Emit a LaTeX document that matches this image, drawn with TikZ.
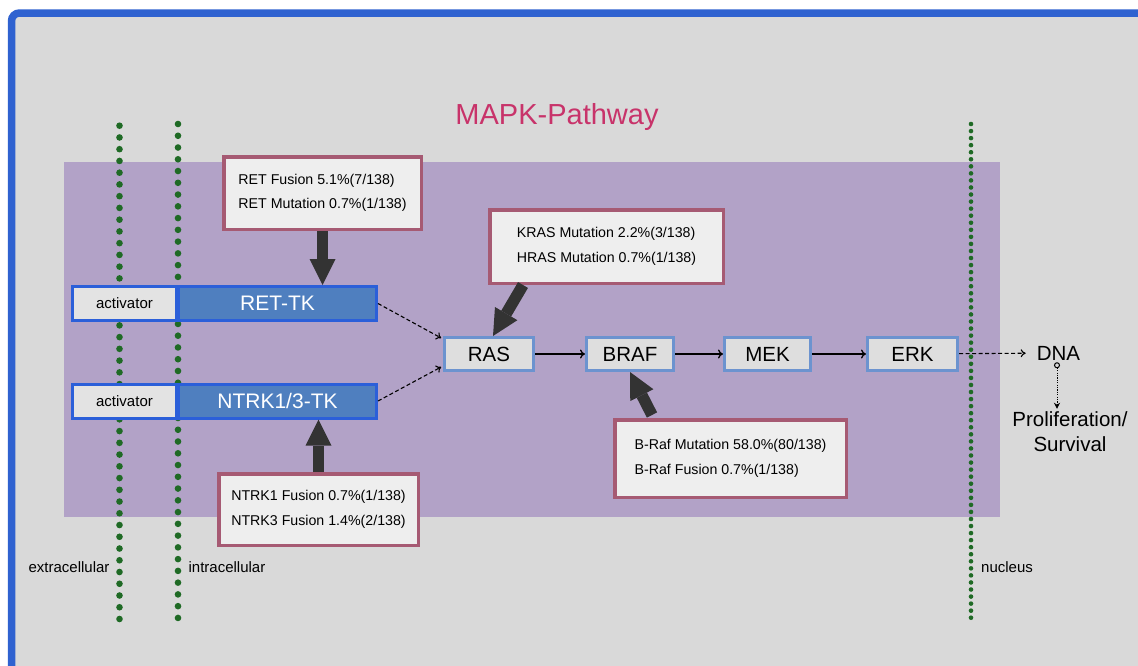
\documentclass[tikz,border=0pt]{standalone}
\usepackage{fontspec}
\setmainfont{Liberation Sans}
\usetikzlibrary{arrows.meta}
\definecolor{framebl}{HTML}{2F62D0}
\definecolor{panel}{HTML}{D9D9D9}
\definecolor{cyto}{HTML}{B2A2C7}
\definecolor{titlecol}{HTML}{C8336A}
\definecolor{memb}{HTML}{1F6A25}
\definecolor{tkedge}{HTML}{2B5FD9}
\definecolor{tkfill}{HTML}{4F7FBF}
\definecolor{actfill}{HTML}{E3E3E3}
\definecolor{protedge}{HTML}{6C93CF}
\definecolor{protfill}{HTML}{DEDEDE}
\definecolor{muteedge}{HTML}{A65A73}
\definecolor{mutefill}{HTML}{EEEEEE}
\definecolor{bigarr}{HTML}{333333}
\begin{document}
\begin{tikzpicture}[x=1pt,y=-1pt,
  protein/.style={draw=protedge, line width=3pt, fill=protfill, inner sep=0pt,
    minimum height=33pt, font=\fontsize{20.5}{24}\selectfont},
  actbox/.style={draw=tkedge, line width=3pt, fill=actfill, inner sep=0pt,
    minimum width=104pt, minimum height=34pt, font=\fontsize{15}{18}\selectfont},
  tkbox/.style={draw=tkedge, line width=3pt, fill=tkfill, text=white, inner sep=0pt,
    minimum width=198pt, minimum height=34pt, font=\fontsize{21}{24}\selectfont},
  mutbox/.style={draw=muteedge, line width=3.5pt, fill=mutefill, inner sep=0pt,
    align=left, font=\fontsize{14.2}{24.5}\selectfont},
  bigarrow/.style={draw=bigarr, line width=11.5pt,
    -{Triangle[length=26pt,width=26pt,line width=0pt]}},
  flow/.style={draw=black, line width=1.3pt, -{To[length=5pt,width=9pt]}},
  dflow/.style={draw=black, line width=1.1pt, dashed, dash pattern=on 4pt off 2.5pt,
    -{To[length=5pt,width=8pt]}},
  plain/.style={inner sep=0pt, font=\fontsize{15}{18}\selectfont},
  big/.style={inner sep=0pt, font=\fontsize{20.5}{25}\selectfont, align=center}
]
\useasboundingbox (0,0) rectangle (1138,665);
\fill[white] (0,0) rectangle (1138,665);
% outer panel with blue frame
\draw[framebl, line width=7.5pt, fill=panel, rounded corners=8pt]
  (11.5,13) rectangle (1170,700);
% cytoplasm region
\fill[cyto] (63.5,161.7) rectangle (1000,516.5);

% membrane lines
\foreach \i in {0,...,42} {
  \fill[memb] (119.5,125.7+\i*11.745) circle (3.3);
  \fill[memb] (178,124+\i*11.76) circle (3.3);
}
\foreach \i in {0,...,70}
  \fill[memb] (971,124+\i*7.053) circle (2.3);

% title
\node[font=\fontsize{29}{32}\selectfont, text=titlecol] (title) at (557,117) {MAPK-Pathway};

% receptors
\node[actbox] (act1) at (124.5,303.5) {activator};
\node[tkbox] (rettk) at (277.5,303.5) {RET-TK};
\node[actbox] (act2) at (124.5,401) {activator};
\node[tkbox] (ntrktk) at (277.5,401) {NTRK1/3-TK};

% cascade
\node[protein, minimum width=89pt] (ras) at (489,354) {RAS};
\node[protein, minimum width=87pt] (braf) at (630,354) {BRAF};
\node[protein, minimum width=86pt] (mek) at (767.5,354) {MEK};
\node[protein, minimum width=90pt] (erk) at (912.5,354) {ERK};
\node[big] (dna) at (1058.5,353) {DNA};
\node[big] (prolif) at (1070,432) {Proliferation/\\Survival};

% alteration frequencies
\node[mutbox, minimum width=197.5pt, minimum height=72.5pt] (retmut) at (322.5,193)
  {RET Fusion 5.1\%(7/138)\\RET Mutation 0.7\%(1/138)};
\node[mutbox, minimum width=233.5pt, minimum height=73.5pt] (krasmut) at (606.5,246.5)
  {KRAS Mutation 2.2\%(3/138)\\HRAS Mutation 0.7\%(1/138)};
\node[mutbox, minimum width=231.5pt, minimum height=77.5pt] (brafmut) at (730.5,458.5)
  {B-Raf Mutation 58.0\%(80/138)\\B-Raf Fusion 0.7\%(1/138)};
\node[mutbox, minimum width=199.5pt, minimum height=71.5pt] (ntrkmut) at (318.5,509.5)
  {NTRK1 Fusion 0.7\%(1/138)\\NTRK3 Fusion 1.4\%(2/138)};

% compartment labels
\node[plain] (extra) at (69,567) {extracellular};
\node[plain] (intra) at (227,567) {intracellular};
\node[plain] (nucl) at (1007,567) {nucleus};

% alteration arrows
\draw[bigarrow] (retmut.south) -- (retmut.south |- rettk.north);
\draw[bigarrow] (ntrkmut.north) -- (ntrkmut.north |- ntrktk.south);
\draw[bigarrow] ([xshift=35pt]krasmut.south west) -- ([xshift=50pt]ras.north west);
\draw[bigarrow] ([xshift=39pt,yshift=3pt]brafmut.north west) -- (braf.south);

% signalling
\draw[dflow, shorten >=2pt] (rettk.east) -- ([yshift=15pt]ras.west);
\draw[dflow, shorten >=2pt] (ntrktk.east) -- ([yshift=-12pt]ras.west);
\draw[flow] (ras) -- (braf);
\draw[flow] (braf) -- (mek);
\draw[flow] (mek) -- (erk);
\draw[dflow, shorten >=11pt] (erk) -- (dna);
\draw[line width=1pt, dash pattern=on 1.2pt off 1.2pt,
  {Circle[open,length=6pt,width=6pt,line width=1pt]}-{Stealth[length=6pt,width=6pt]}]
  ([xshift=-1.5pt,yshift=-2pt]dna.south) -- ([xshift=-13pt,yshift=3pt]prolif.north);
\end{tikzpicture}
\end{document}
